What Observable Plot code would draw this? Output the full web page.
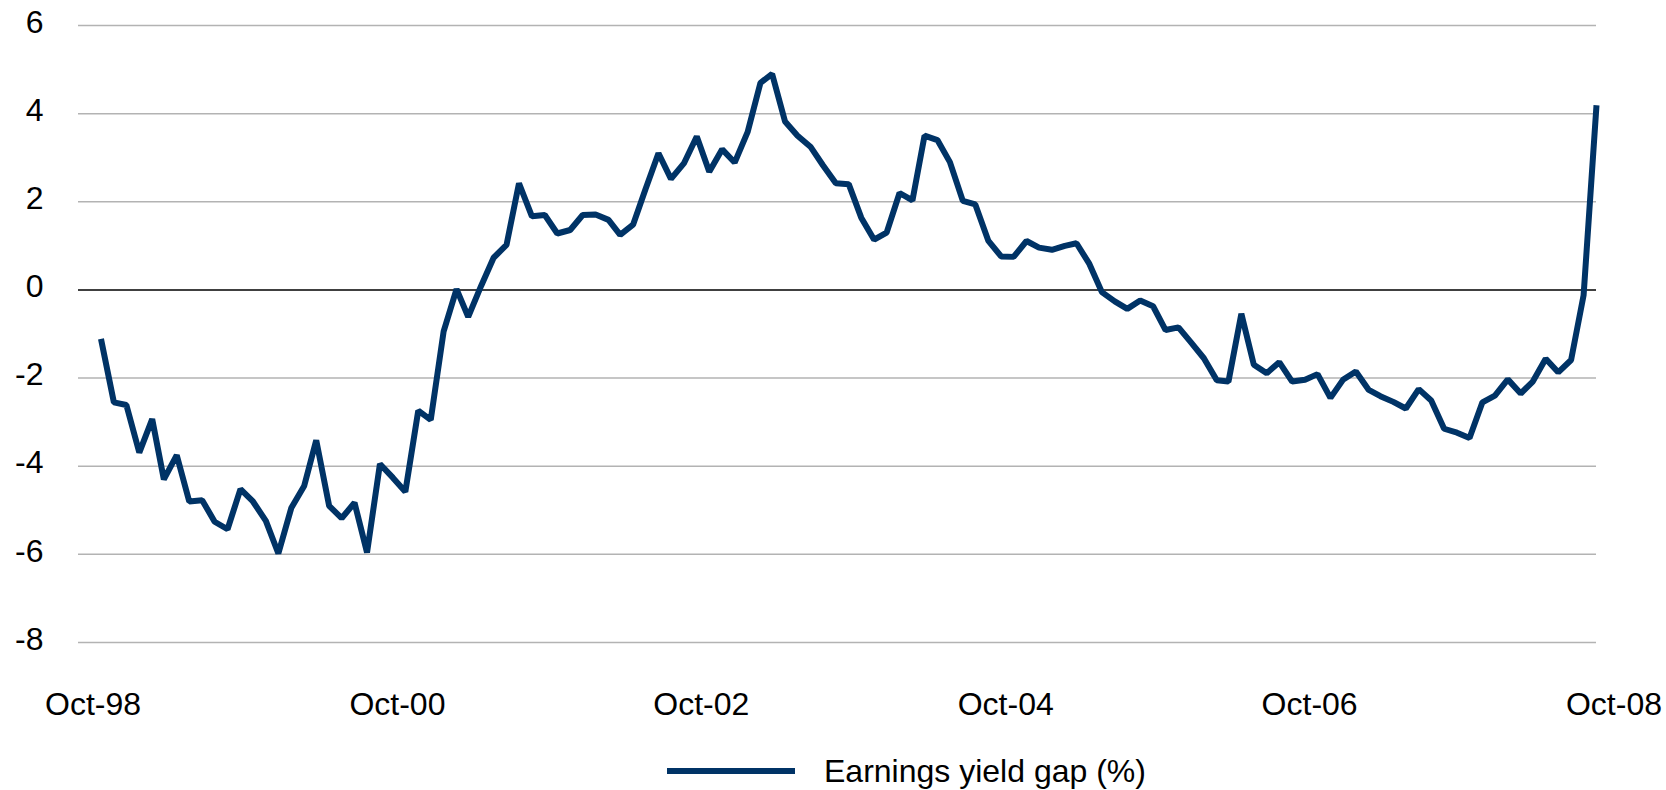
<!DOCTYPE html>
<html>
<head>
<meta charset="utf-8">
<script src="https://cdn.jsdelivr.net/npm/d3@7"></script>
<script src="https://cdn.jsdelivr.net/npm/@observablehq/plot@0.6"></script>
<style>
  html, body { margin: 0; padding: 0; background: #fff; }
  body { width: 1666px; height: 790px; overflow: hidden; font-family: "Liberation Sans", Arial, sans-serif; }
  #legend { display: flex; align-items: center; height: 50px; margin-top: 6px; padding-left: 667px; font-size: 32px; color: #000; }
  #legend .swatch { width: 128px; height: 6px; background: #003366; margin-right: 29px; }
</style>
</head>
<body>
<div id="chart"></div>
<div id="legend"><span class="swatch"></span><span id="legend-label"></span></div>
<script>
// Monthly series starting October 1998
const startYear = 1998;
const startMonth = 9; // October (0-based)
const seriesName = "Earnings yield gap (%)";
const yieldGap = [
  -1.11, -2.55, -2.61, -3.69, -2.93, -4.30, -3.75, -4.80, -4.77, -5.26,
  -5.43, -4.52, -4.80, -5.24, -5.98, -4.95, -4.45, -3.41, -4.90, -5.18,
  -4.83, -5.96, -3.95, -4.26, -4.58, -2.74, -2.95, -0.94, 0.02, -0.61,
  0.09, 0.73, 1.02, 2.42, 1.67, 1.70, 1.28, 1.36, 1.70, 1.71,
  1.59, 1.25, 1.48, 2.29, 3.10, 2.52, 2.87, 3.48, 2.68, 3.19,
  2.89, 3.58, 4.70, 4.90, 3.82, 3.50, 3.25, 2.83, 2.42, 2.40,
  1.64, 1.14, 1.30, 2.20, 2.03, 3.50, 3.40, 2.90, 2.02, 1.94,
  1.12, 0.76, 0.75, 1.11, 0.96, 0.91, 1.00, 1.06, 0.59, -0.05,
  -0.26, -0.43, -0.24, -0.37, -0.91, -0.85, -1.19, -1.55, -2.05, -2.08,
  -0.54, -1.70, -1.89, -1.64, -2.08, -2.04, -1.91, -2.45, -2.04, -1.85,
  -2.27, -2.41, -2.54, -2.69, -2.25, -2.51, -3.15, -3.24, -3.36, -2.55,
  -2.40, -2.03, -2.35, -2.08, -1.56, -1.87, -1.59, -0.12, 4.19
];
const yTicks = [-8, -6, -4, -2, 0, 2, 4, 6];
const xTickLabels = ["Oct-98", "Oct-00", "Oct-02", "Oct-04", "Oct-06", "Oct-08"];
const xTickYears = [1998, 2000, 2002, 2004, 2006, 2008];

const data = yieldGap.map((v, i) => ({date: new Date(Date.UTC(startYear, startMonth + i, 20)), value: v}));
const xTicks = xTickYears.map(y => new Date(Date.UTC(y, 9, 1)));
const lastDate = data[data.length - 1].date;
const firstDate = data[0].date;
const domainStart = new Date(firstDate.getTime() - 54 * 864e5);

const chart = Plot.plot({
  width: 1666,
  height: 740,
  marginLeft: 78,
  marginRight: 70,
  marginTop: 25,
  marginBottom: 98,
  style: {fontFamily: "'Liberation Sans', Arial, sans-serif", fontSize: "32px", color: "#000", background: "#fff"},
  x: {type: "utc", domain: [domainStart, lastDate]},
  y: {domain: [-8, 6]},
  marks: [
    Plot.ruleY(yTicks.filter(d => d !== 0), {stroke: "#b3b3b3", strokeWidth: 1.5}),
    Plot.ruleY([0], {stroke: "#000", strokeWidth: 1.5}),
    Plot.axisY({ticks: yTicks, tickSize: 0, tickPadding: 35, dy: -3, tickFormat: d => String(d), label: null, fontSize: 32}),
    Plot.axisX({ticks: xTicks, tickSize: 0, tickPadding: 50, tickFormat: (d, i) => xTickLabels[i], label: null, fontSize: 32}),
    Plot.line(data, {x: "date", y: "value", stroke: "#003366", strokeWidth: 6, strokeLinejoin: "miter", strokeLinecap: "butt"})
  ]
});
document.getElementById("chart").appendChild(chart);
document.getElementById("legend-label").textContent = seriesName;
</script>
</body>
</html>
